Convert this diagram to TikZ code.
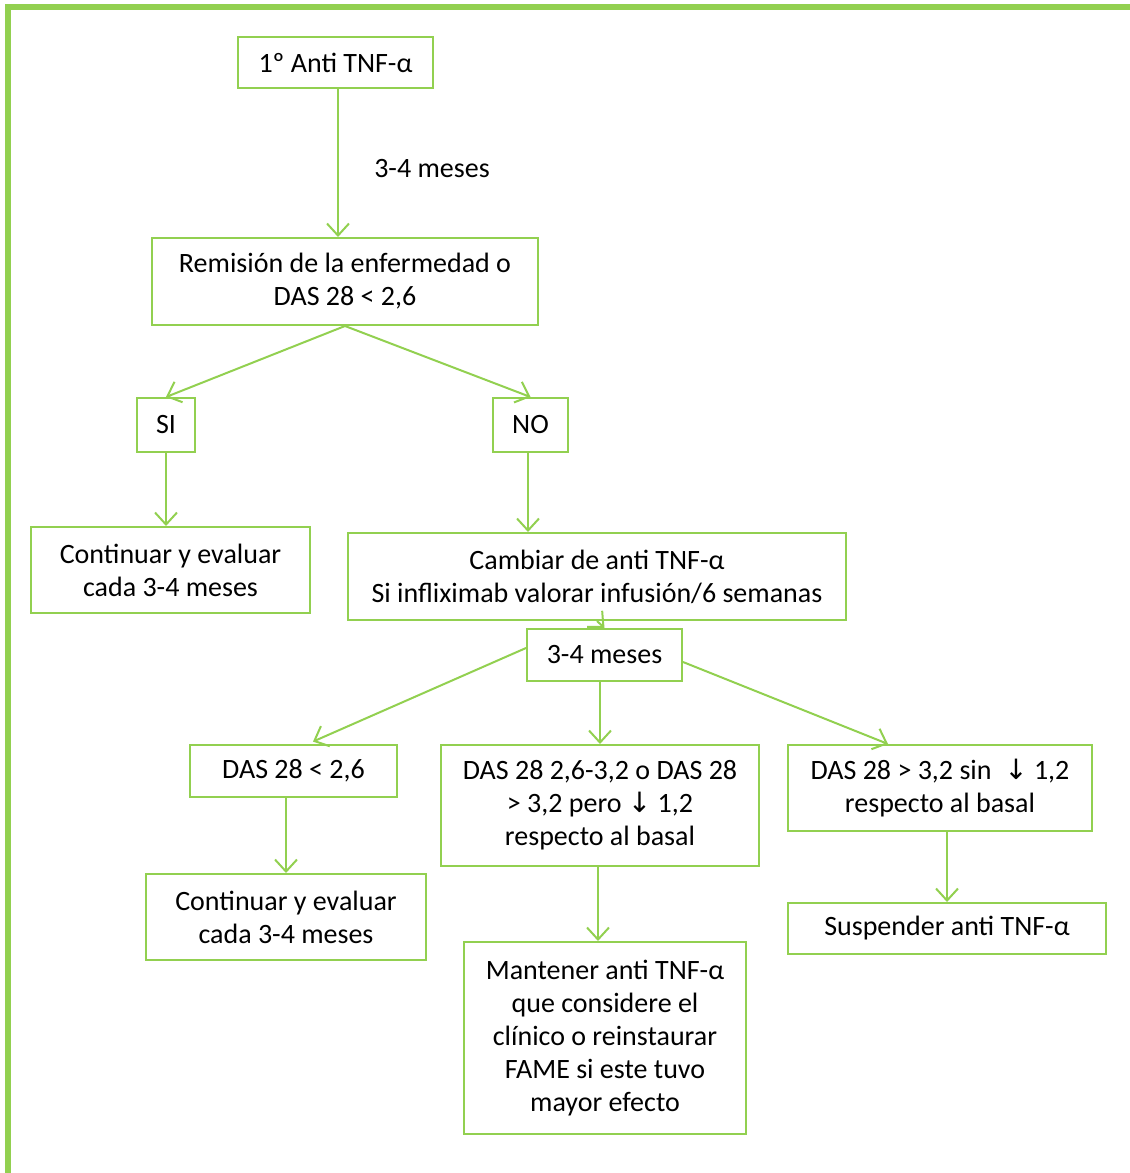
\documentclass[tikz,border=0pt]{standalone}
\usepackage{fontspec}
\setmainfont{Carlito}
\newfontfamily\arrowfont{DejaVu Sans}
\usepackage{tikz}
\usetikzlibrary{arrows.meta}
\definecolor{officegreen}{HTML}{92D050}
\tikzstyle{box} = [draw=officegreen, line width=2pt, align=center, inner sep=0pt, text=black]
\tikzstyle{arrow} = [draw=officegreen, line width=2pt, -{Straight Barb[length=12pt,width=22pt,line width=2pt]}]
\tikzstyle{frame} = [draw=officegreen, line width=6pt]
\newcommand{\dn}{{\arrowfont ↓}}

\begin{document}
\begin{tikzpicture}[x=1pt, y=-1pt, font=\fontsize{28}{33}\selectfont]
                    \useasboundingbox (0,0) rectangle (1130,1173);
                    \draw [frame] (8,1173) -- (8,7) -- (1130,7);
                    % first line treatment
                    \node [box, minimum width=195pt, minimum height=51pt] (anti) at (335.5, 62.5) {1º Anti TNF-α};
                    \node (meses) at (432, 169) {3-4 meses};
                    \node [box, minimum width=386pt, minimum height=87pt] (remis) at (345, 281.5) {Remisión de la enfermedad o\\DAS 28 < 2,6};
                    \node [box, minimum width=58pt, minimum height=54pt] (si) at (166, 425) {SI};
                    \node [box, minimum width=75pt, minimum height=54pt] (no) at (530.5, 425) {NO};
                    \node [box, minimum width=279pt, minimum height=86pt] (contA) at (170.5, 570) {Continuar y evaluar\\cada 3-4 meses};
                    \node [box, minimum width=498pt, minimum height=87pt] (cambiar) at (597, 576.5) {Cambiar de anti TNF-α\\Si infliximab valorar infusión/6 semanas};
                    % second anti TNF
                    \node [box, minimum width=155pt, minimum height=52pt] (mesesB) at (604.5, 655) {3-4 meses};
                    \node [box, minimum width=207pt, minimum height=52pt] (dasA) at (293.5, 771) {DAS 28 < 2,6};
                    \node [box, minimum width=318pt, minimum height=121pt] (dasB) at (600, 805.5) {DAS 28 2,6-3,2 o DAS 28\\> 3,2 pero \dn{} 1,2\\respecto al basal};
                    \node [box, minimum width=304pt, minimum height=86pt] (dasC) at (940, 788) {DAS 28 > 3,2 sin \ \dn{} 1,2\\respecto al basal};
                    \node [box, minimum width=280pt, minimum height=86pt] (contB) at (286, 917) {Continuar y evaluar\\cada 3-4 meses};
                    \node [box, minimum width=282pt, minimum height=192pt] (mant) at (605, 1038) {Mantener anti TNF-α\\que considere el\\clínico o reinstaurar\\FAME si este tuvo\\mayor efecto};
                    \node [box, minimum width=318pt, minimum height=51pt] (susp) at (947, 928.5) {Suspender anti TNF-α};
                    % connectors
                    \draw [arrow] ([xshift=2.5pt]anti.south) -- ([xshift=2.5pt]anti.south |- remis.north);
                    \draw [arrow] (remis.south) -- (si.north);
                    \draw [arrow] (remis.south) -- (no.north);
                    \draw [arrow] (si.south) -- (contA.north -| si.south);
                    \draw [arrow] ([xshift=-2.5pt]no.south) -- ([xshift=-2.5pt]no.south |- cambiar.north);
                    \draw [arrow] (cambiar.south) -- (mesesB.north);
                    \draw [arrow, shorten >=6pt] ([yshift=7pt]mesesB.west) -- ([xshift=14pt]dasA.north);
                    \draw [arrow] (mesesB.south -| dasB.north) -- (dasB.north);
                    \draw [arrow] ([yshift=-7pt]mesesB.east) -- ([xshift=-52pt]dasC.north);
                    \draw [arrow] (dasA.south -| contB.north) -- (contB.north);
                    \draw [arrow] ([xshift=-2pt]dasB.south) -- ([xshift=-2pt]dasB.south |- mant.north);
                    \draw [arrow] (dasC.south -| susp.north) -- (susp.north);
                \end{tikzpicture}
\end{document}
